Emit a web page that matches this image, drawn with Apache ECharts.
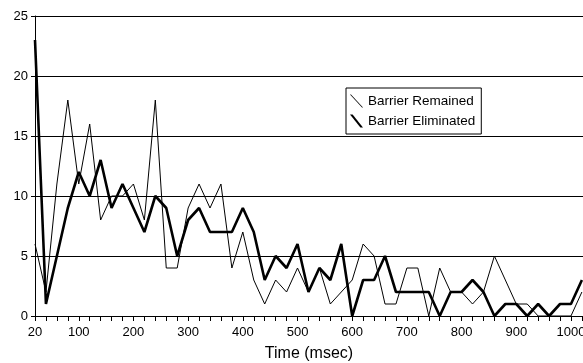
<!DOCTYPE html>
<html>
<head>
    <meta charset="utf-8">
    <script type="text/javascript" src="https://cdn.jsdelivr.net/npm/echarts@6/dist/echarts.min.js"></script>
</head>
<body style="margin:0; background-color:#fff">
<div id="main" style="width:583px;height:363px;"></div>
<script type="text/javascript">
    // time steps in msec (every 20 ms, chart is cropped just after 1000)
    var times = [];
    for (var t = 20; t <= 1020; t += 20) times.push(t);

    var remained = [6, 2, 11, 18, 11, 16, 8, 10, 10, 11,
                    8, 18, 4, 4, 9, 11, 9, 11, 4, 7,
                    3, 1, 3, 2, 4, 2, 4, 1, 2, 3,
                    6, 5, 1, 1, 4, 4, 0, 4, 2, 2,
                    1, 2, 5, 3, 1, 1, 0, 0, 0, 0,
                    2];
    var eliminated = [23, 1, 5, 9, 12, 10, 13, 9, 11, 9,
                      7, 10, 9, 5, 8, 9, 7, 7, 7, 9,
                      7, 3, 5, 4, 6, 2, 4, 3, 6, 0,
                      3, 3, 5, 2, 2, 2, 2, 0, 2, 2,
                      3, 2, 0, 1, 1, 0, 1, 0, 1, 1,
                      3];
    var xLabels = [20, 100, 200, 300, 400, 500, 600, 700, 800, 900, 1000];

    function pairs(vals) {
        return times.map(function (t, i) { return [t, vals[i]]; });
    }

    var font = 'Liberation Sans, Arial, sans-serif';
    var myChart = echarts.init(document.getElementById('main'));
    var option = {
        animation: false,
        backgroundColor: '#fff',
        grid: { left: 35, right: 0, top: 16, bottom: 47, outerBoundsMode: 'none', containLabel: false },
        legend: {
            orient: 'vertical',
            left: 346, top: 88,
            padding: [6, 6, 6, 4],
            itemGap: 6,
            itemWidth: 13, itemHeight: 13,
            borderColor: '#000', borderWidth: 1,
            textStyle: { fontFamily: font, fontSize: 13.5, color: '#000' },
            data: [
                { name: 'Barrier Remained', icon: 'path://M0,0L1,0L13,13L12,13Z' },
                { name: 'Barrier Eliminated', icon: 'path://M0,0L2.6,0L13,13L10.4,13Z' }
            ]
        },
        xAxis: {
            type: 'value',
            min: 20, max: 1022, interval: 20,
            name: 'Time (msec)',
            nameLocation: 'middle',
            nameGap: 30,
            nameTextStyle: { fontFamily: font, fontSize: 16, color: '#000' },
            axisLine: { lineStyle: { color: '#000', width: 1 } },
            axisTick: { length: 5, lineStyle: { color: '#000' } },
            splitLine: { show: false },
            axisLabel: {
                fontFamily: font, fontSize: 13, color: '#000', margin: 10,
                showMaxLabel: true, showMinLabel: true,
                formatter: function (v) { return xLabels.indexOf(v) >= 0 ? String(v) : ''; }
            }
        },
        yAxis: {
            type: 'value',
            min: 0, max: 25, interval: 5,
            axisLine: { show: true, lineStyle: { color: '#000', width: 1 } },
            axisTick: { show: true, length: 4, lineStyle: { color: '#000' } },
            splitLine: { lineStyle: { color: '#000', width: 1 } },
            axisLabel: { fontFamily: font, fontSize: 13, color: '#000', margin: 7 }
        },
        series: [
            {
                name: 'Barrier Remained', type: 'line',
                data: pairs(remained),
                showSymbol: false, symbol: 'none',
                color: '#000',
                lineStyle: { color: '#000', width: 1 }
            },
            {
                name: 'Barrier Eliminated', type: 'line',
                data: pairs(eliminated),
                showSymbol: false, symbol: 'none',
                color: '#000',
                lineStyle: { color: '#000', width: 2.6 }
            }
        ]
    };
    myChart.setOption(option);
</script>
</body>
</html>
